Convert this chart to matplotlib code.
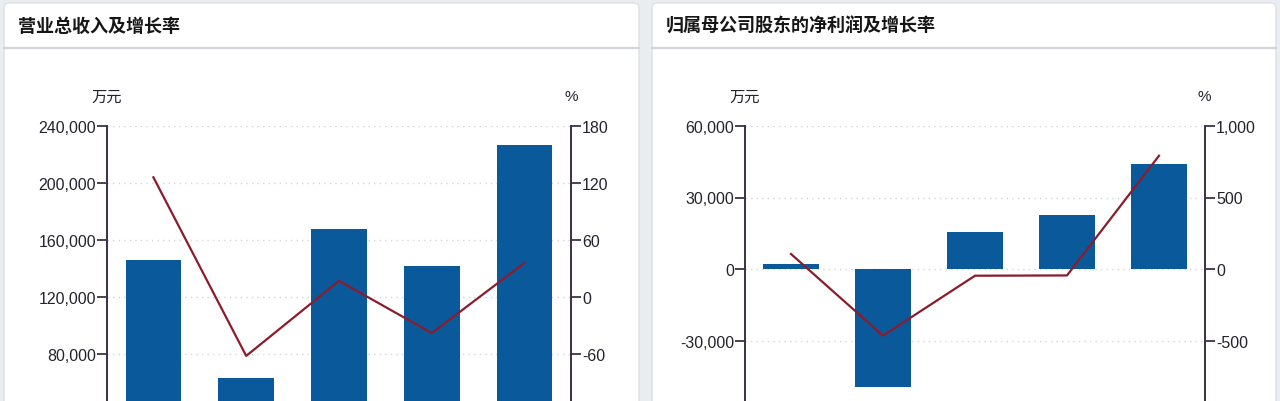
import matplotlib
matplotlib.use('Agg')
import matplotlib.pyplot as plt
from matplotlib.patches import FancyBboxPatch
from matplotlib.ticker import FuncFormatter

plt.rcParams['font.family'] = ['Liberation Sans', 'Noto Sans CJK SC', 'DejaVu Sans']

# %% Data.
rev_title = '营业总收入及增长率'
revenue = [146000, 63000, 168000, 142000, 227000]        # 万元
revenue_growth = [126, -62, 17, -38, 36]                 # %
rev_ticks = [80000, 120000, 160000, 200000, 240000]      # visible ticks only
rev_growth_ticks = [-60, 0, 60, 120, 180]

profit_title = '归属母公司股东的净利润及增长率'
profit = [2100, -49600, 15400, 22800, 44000]             # 万元
profit_growth = [105, -466, -47, -45, 792]               # %
profit_ticks = [-30000, 0, 30000, 60000]
profit_growth_ticks = [-500, 0, 500, 1000]

unit_left = '万元'
unit_right = '%'

# %% Style.
W, H = 1280, 402
BAR = '#0a5a9b'
LINE = '#8c1c2c'
SPINE = '#3d3448'
TXT = '#24222e'
GRID = '#cfd5de'

fig = plt.figure(figsize=(W / 100, H / 100), dpi=100)
fig.patch.set_facecolor('#eaedf0')


def px_box(x0, y0, x1, y1):
    """Pixel box (top-left origin) -> figure fraction rect."""
    return [x0 / W, 1 - y1 / H, (x1 - x0) / W, (y1 - y0) / H]


# Background cards.
bg = fig.add_axes([0, 0, 1, 1])
bg.set_xlim(0, W)
bg.set_ylim(H, 0)
bg.axis('off')
bg.set_zorder(-1)
for x0, x1, title in [(4, 639, rev_title), (652, 1276, profit_title)]:
    bg.add_patch(FancyBboxPatch((x0, 4), x1 - x0, 440, boxstyle='round,pad=0,rounding_size=5',
                                fc='white', ec='#dde1e6', lw=1))
    bg.plot([x0, x1], [49, 49], color='#d2d6db', lw=1.6)
    bg.text(x0 + 14, 26, title, fontsize=13, fontweight='bold', color='#161616',
            va='center', ha='left', family=['Noto Sans CJK SC', 'DejaVu Sans'])


def fmt(v, pos):
    return '{:,.0f}'.format(v)


def panel(rect, bars, growth, ticks, gticks, ylim, gylim, x_l, x_r):
    ax = fig.add_axes(rect)
    ax.patch.set_alpha(0)
    xs = range(len(bars))
    ax.bar(xs, bars, width=0.6, color=BAR, zorder=2)
    ax.set_xlim(-0.5, len(bars) - 0.5)
    ax.set_ylim(*ylim)
    ax.set_yticks(ticks)
    ax.yaxis.set_major_formatter(FuncFormatter(fmt))
    ax.grid(axis='y', linestyle=(0, (1, 3)), color=GRID, lw=1, zorder=0)
    ax.set_xticks([])

    ax2 = ax.twinx()
    ax2.plot(xs, growth, color=LINE, lw=1.6)
    ax2.set_ylim(*gylim)
    ax2.set_yticks(gticks)
    ax2.yaxis.set_major_formatter(FuncFormatter(fmt))

    for a in [ax, ax2]:
        for s in ['top', 'bottom']:
            a.spines[s].set_visible(False)
        for s in ['left', 'right']:
            a.spines[s].set_color(SPINE)
            a.spines[s].set_linewidth(1.3)
        a.tick_params(axis='y', length=7, width=1.3, color=SPINE, labelcolor=TXT,
                      labelsize=11.5, pad=1)

    # Unit labels above the axes.
    bg.text(x_l, 97, unit_left, fontsize=11, color=TXT, ha='center', va='center',
            family=['Noto Sans CJK SC', 'DejaVu Sans'])
    bg.text(x_r, 97, unit_right, fontsize=11, color=TXT, ha='center', va='center')
    return ax, ax2


# The chart is cut off at the bottom: axes run below the figure edge.
panel(px_box(107, 127, 571, 469), revenue, revenue_growth, rev_ticks, rev_growth_ticks,
      (0, 240000), (-180, 180), 107, 571)
panel(px_box(745, 127, 1205, 413), profit, profit_growth, profit_ticks, profit_growth_ticks,
      (-60000, 60000), (-1000, 1000), 745, 1204)

fig.savefig('out.png', dpi=100, facecolor=fig.get_facecolor())
